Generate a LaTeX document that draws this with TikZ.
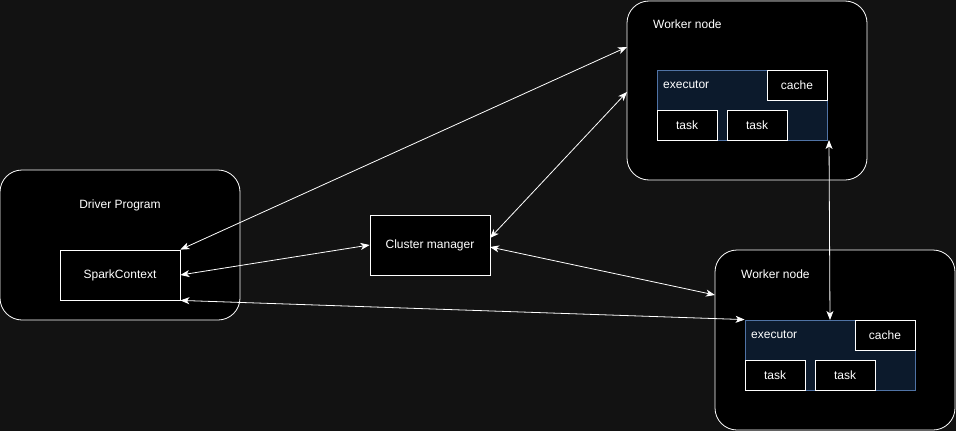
\documentclass[tikz,border=0pt]{standalone}
\usepackage{fontspec}
\setmainfont{Liberation Sans}
\usetikzlibrary{arrows.meta}
\definecolor{bgdark}{RGB}{18,18,18}
\definecolor{execfill}{RGB}{12,26,44}
\definecolor{execline}{RGB}{80,115,165}
\begin{document}
\begin{tikzpicture}[x=1pt,y=-1pt,
    txt/.style={font={\fontsize{12}{14}\selectfont},text=white},
    outer/.style={draw=white,fill=black,rounded corners=22pt,line width=0.8pt},
    box/.style={txt,draw=white,fill=black,line width=0.8pt,inner sep=0pt},
    exec/.style={draw=execline,fill=execfill,line width=0.8pt,inner sep=0pt,
        minimum width=170pt,minimum height=70pt},
    small/.style={box,minimum width=60pt,minimum height=30pt},
    link/.style={draw=white,line width=0.8pt,<->,>={Stealth[length=9pt,width=7pt,inset=2.5pt]}}]
\fill[bgdark] (0,0) rectangle (956,431);
\useasboundingbox (0,0) rectangle (956,431);
% driver side
\node[outer,minimum width=240pt,minimum height=150pt] (driver) at (120,245) {};
\node[txt] (drivertitle) at (120,205) {Driver Program};
\node[box,minimum width=120pt,minimum height=50pt] (spark) at (120,275) {SparkContext};
\node[box,minimum width=120pt,minimum height=60pt] (cm) at (430,245) {Cluster manager};
% first worker
\node[outer,minimum width=240pt,minimum height=179pt] (w1) at (747,90.5) {};
\node[txt,anchor=west,inner sep=0pt] (w1title) at (653,24) {Worker node};
\node[exec] (exec1) at (742,105) {};
\node[txt,anchor=west,inner sep=0pt] (exec1title) at (663,85) {executor};
\node[small] (cache1) at (797,85) {cache};
\node[small] (task1a) at (687,125) {task};
\node[small] (task1b) at (757,125) {task};
% second worker
\node[outer,minimum width=240pt,minimum height=180pt] (w2) at (835,340) {};
\node[txt,anchor=west,inner sep=0pt] (w2title) at (741,274) {Worker node};
\node[exec] (exec2) at (830,355) {};
\node[txt,anchor=west,inner sep=0pt] (exec2title) at (751,335) {executor};
\node[small] (cache2) at (885,335) {cache};
\node[small] (task2a) at (775,375) {task};
\node[small] (task2b) at (845,375) {task};
% connector ends
\coordinate (w1a) at (627,47);
\coordinate (w1b) at (627,92);
\coordinate (cma) at (490,238);
\coordinate (cmb) at (490,247);
\coordinate (w2a) at (715,295);
\coordinate (ex1) at (829,140);
\coordinate (ex2) at (830,320);
\draw[link] (spark.north east) -- (w1a);
\draw[link] (spark.east) -- (cm.west);
\draw[link] (spark.south east) -- (exec2.north west);
\draw[link] (cma) -- (w1b);
\draw[link] (cmb) -- (w2a);
\draw[link] (ex1) -- (ex2);
\end{tikzpicture}
\end{document}
